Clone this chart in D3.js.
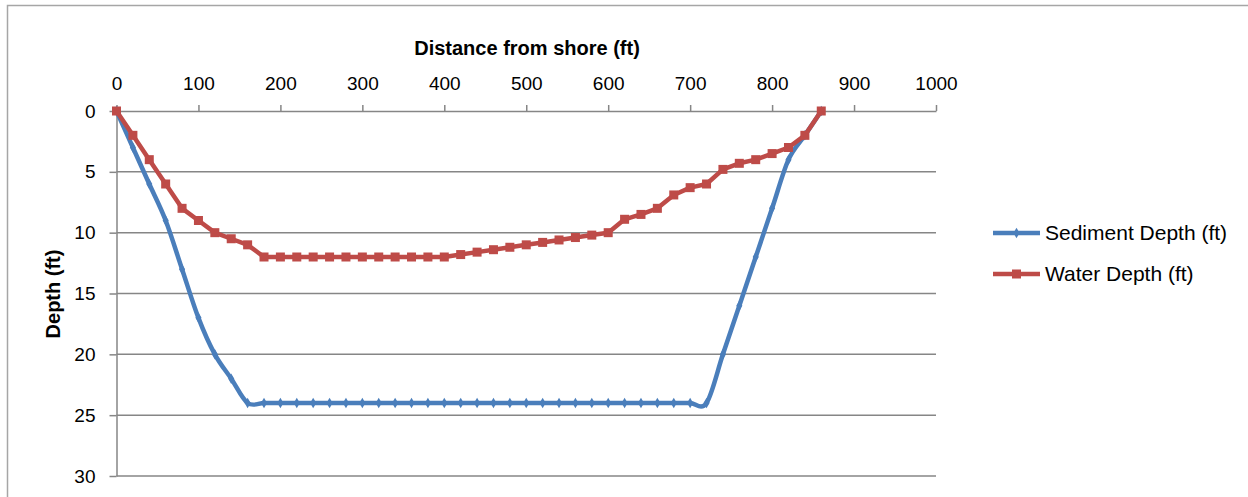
<!DOCTYPE html>
<html lang="en">
<head>
  <meta charset="utf-8" />
  <title>Depth profile</title>
  <script src="https://cdn.jsdelivr.net/npm/d3@7"></script>
  <style>
    body { margin: 0; background: #fff; }
    text { font-family: "Liberation Sans", Arial, sans-serif; fill: #000; }
  </style>
</head>
<body>
  <script>
    // distances from shore (ft), one reading every 20 ft
    var distance = [0, 20, 40, 60, 80, 100, 120, 140, 160, 180, 200, 220, 240, 260, 280, 300,
      320, 340, 360, 380, 400, 420, 440, 460, 480, 500, 520, 540, 560, 580, 600,
      620, 640, 660, 680, 700, 720, 740, 760, 780, 800, 820, 840, 860];
    var sedimentDepth = [0, 3, 6, 9, 13, 17, 20, 22, 24, 24, 24, 24, 24, 24, 24, 24,
      24, 24, 24, 24, 24, 24, 24, 24, 24, 24, 24, 24, 24, 24, 24,
      24, 24, 24, 24, 24, 24, 20, 16, 12, 8, 4, 2, 0];
    var waterDepth = [0, 2, 4, 6, 8, 9, 10, 10.5, 11, 12, 12, 12, 12, 12, 12, 12,
      12, 12, 12, 12, 12, 11.8, 11.6, 11.4, 11.2, 11, 10.8, 10.6, 10.4, 10.2, 10,
      8.9, 8.5, 8, 6.9, 6.3, 6, 4.8, 4.3, 4, 3.5, 3, 2, 0];
    var xTicks = [0, 100, 200, 300, 400, 500, 600, 700, 800, 900, 1000];
    var yTicks = [0, 5, 10, 15, 20, 25, 30];
    var seriesNames = ["Sediment Depth (ft)", "Water Depth (ft)"];
    var seriesColors = ["#4a7ebb", "#be4b48"];

    var width = 1248, height = 497;
    // plot area edges
    var plotL = 116.5, plotR = 936, plotT = 111, plotB = 476;
    var axisColor = "#868686";

    var svg = d3.select("body").append("svg")
      .attr("width", width)
      .attr("height", height);

    // chart border (right and bottom edges fall outside the view)
    svg.append("rect")
      .attr("x", 7.5).attr("y", 5.5)
      .attr("width", 1300).attr("height", 600)
      .attr("fill", "none")
      .attr("stroke", "#a6a6a6")
      .attr("stroke-width", 1.5);

    var x = d3.scaleLinear().domain([0, 1000]).range([plotL, plotR]);
    var y = d3.scaleLinear().domain([0, 30]).range([plotT, plotB]);

    // horizontal gridlines
    svg.append("g")
      .selectAll("line")
      .data(yTicks.slice(1))
      .enter()
      .append("line")
      .attr("x1", plotL).attr("x2", plotR)
      .attr("y1", function (d) { return y(d); })
      .attr("y2", function (d) { return y(d); })
      .attr("stroke", axisColor)
      .attr("stroke-width", 1.5);

    // top axis
    var xAxis = svg.append("g")
      .attr("transform", "translate(0," + plotT + ")")
      .call(d3.axisTop(x).tickValues(xTicks).tickFormat(d3.format("d"))
        .tickSize(6).tickPadding(15).tickSizeOuter(0));
    xAxis.select(".domain").attr("stroke", axisColor).attr("stroke-width", 1.5);
    xAxis.selectAll(".tick line").attr("stroke", axisColor).attr("stroke-width", 1.5);
    xAxis.selectAll(".tick text")
      .attr("font-size", 19)
      .attr("font-family", "Liberation Sans, Arial, sans-serif")
      .attr("fill", "#000");

    // left axis
    var yAxis = svg.append("g")
      .attr("transform", "translate(" + plotL + ",0)")
      .call(d3.axisLeft(y).tickValues(yTicks).tickSize(7).tickPadding(14).tickSizeOuter(0));
    yAxis.select(".domain").attr("stroke", axisColor).attr("stroke-width", 1.5);
    yAxis.selectAll(".tick line").attr("stroke", axisColor).attr("stroke-width", 1.5);
    yAxis.selectAll(".tick text")
      .attr("font-size", 19)
      .attr("font-family", "Liberation Sans, Arial, sans-serif")
      .attr("fill", "#000");

    // axis titles
    svg.append("text")
      .attr("x", 527)
      .attr("y", 55)
      .attr("text-anchor", "middle")
      .attr("font-size", 20)
      .attr("font-weight", "bold")
      .text("Distance from shore (ft)");

    svg.append("text")
      .attr("transform", "translate(60,294) rotate(-90)")
      .attr("text-anchor", "middle")
      .attr("font-size", 20)
      .attr("font-weight", "bold")
      .text("Depth (ft)");

    var sedPts = distance.map(function (d, i) { return [d, sedimentDepth[i]]; });
    var watPts = distance.map(function (d, i) { return [d, waterDepth[i]]; });

    // sediment line (smoothed) with diamond markers
    svg.append("path")
      .datum(sedPts)
      .attr("d", d3.line()
        .x(function (d) { return x(d[0]); })
        .y(function (d) { return y(d[1]); })
        .curve(d3.curveCardinal.tension(0)))
      .attr("fill", "none")
      .attr("stroke", seriesColors[0])
      .attr("stroke-width", 4.5)
      .attr("stroke-linejoin", "round");

    svg.append("g")
      .selectAll("path")
      .data(sedPts)
      .enter()
      .append("path")
      .attr("d", d3.symbol().type(d3.symbolDiamond).size(32))
      .attr("transform", function (d) { return "translate(" + x(d[0]) + "," + y(d[1]) + ")"; })
      .attr("fill", seriesColors[0]);

    // water line (straight) with square markers
    svg.append("path")
      .datum(watPts)
      .attr("d", d3.line()
        .x(function (d) { return x(d[0]); })
        .y(function (d) { return y(d[1]); }))
      .attr("fill", "none")
      .attr("stroke", seriesColors[1])
      .attr("stroke-width", 4.5)
      .attr("stroke-linejoin", "round");

    svg.append("g")
      .selectAll("rect")
      .data(watPts)
      .enter()
      .append("rect")
      .attr("x", function (d) { return x(d[0]) - 4.5; })
      .attr("y", function (d) { return y(d[1]) - 4.5; })
      .attr("width", 9).attr("height", 9)
      .attr("fill", seriesColors[1]);

    // legend
    var legend = svg.append("g").attr("transform", "translate(993,233)");
    seriesNames.forEach(function (name, i) {
      var g = legend.append("g").attr("transform", "translate(0," + (i * 41) + ")");
      g.append("line")
        .attr("x1", 0).attr("x2", 47)
        .attr("stroke", seriesColors[i])
        .attr("stroke-width", 4.5);
      if (i === 0) {
        g.append("path")
          .attr("d", d3.symbol().type(d3.symbolDiamond).size(32))
          .attr("transform", "translate(23.5,0)")
          .attr("fill", seriesColors[i]);
      } else {
        g.append("rect")
          .attr("x", 19).attr("y", -4.5)
          .attr("width", 9).attr("height", 9)
          .attr("fill", seriesColors[i]);
      }
      g.append("text")
        .attr("x", 52)
        .attr("y", 0)
        .attr("dy", "0.35em")
        .attr("font-size", 21)
        .text(name);
    });
  </script>
</body>
</html>
